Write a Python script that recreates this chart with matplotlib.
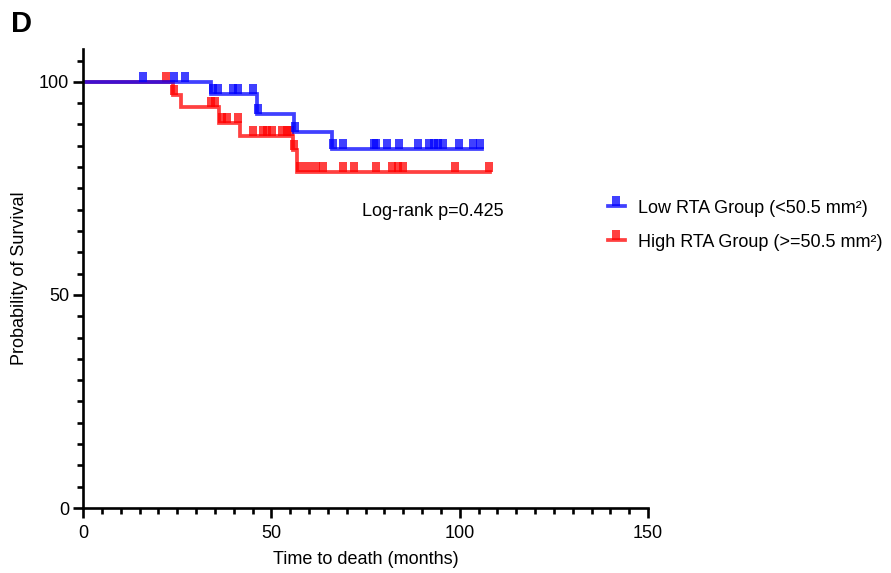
import matplotlib
matplotlib.use("Agg")
import matplotlib.pyplot as plt
from matplotlib.path import Path
from matplotlib.lines import Line2D
from matplotlib.ticker import MultipleLocator
import numpy as np

plt.rcParams['font.family'] = ['Liberation Sans', 'DejaVu Sans']

# Kaplan-Meier steps (months, survival %)
low_event_t = [34.1, 46.1, 56.1, 66.0]
low_event_s = [97.1, 92.4, 88.3, 84.2]
low_end = 105.8
low_censor_t = [15.9, 24.2, 27.1, 34.4, 35.9, 39.9, 41.2, 45.0, 46.4, 56.4,
                66.3, 68.9, 77.3, 77.9, 80.8, 84.0, 89.0, 91.9, 93.2, 94.3,
                95.6, 99.9, 103.6, 105.4]

high_event_t = [24.0, 25.9, 36.2, 41.7, 55.8, 56.9]
high_event_s = [97.0, 94.2, 90.4, 87.4, 84.0, 78.8]
high_end = 108.0
high_censor_t = [22.0, 24.2, 34.1, 35.0, 36.8, 38.1, 41.2, 45.0, 47.9, 48.9,
                 50.1, 52.7, 54.1, 55.0, 56.0, 57.5, 59.8, 61.9, 63.8, 68.9,
                 71.9, 77.9, 81.9, 83.5, 84.9, 98.8, 107.9]

labels = ["Low RTA Group (<50.5 mm²)", "High RTA Group (>=50.5 mm²)"]
colors = ["#0000ff", "#ff0000"]


def surv_at(t, ev_t, ev_s):
    s = 100.0
    for et, es in zip(ev_t, ev_s):
        if et <= t:
            s = es
    return s


# censor tick: small box sitting on top of the line
tick_marker = Path([(-1.0, 0), (1.0, 0), (1.0, 2.4), (-1.0, 2.4), (-1.0, 0)],
                   [Path.MOVETO, Path.LINETO, Path.LINETO, Path.LINETO, Path.CLOSEPOLY])

fs = 13

fig = plt.figure(figsize=(8.91, 5.73), dpi=100)
ax = fig.add_axes([0.0932, 0.1134, 0.6341, 0.801])

groups = [
    (high_event_t, high_event_s, high_end, high_censor_t, colors[1]),
    (low_event_t, low_event_s, low_end, low_censor_t, colors[0]),
]
for ev_t, ev_s, end, cens, col in groups:
    xs = [0] + ev_t + [end]
    ys = [100] + ev_s + [ev_s[-1]]
    ax.step(xs, ys, where='post', color=col, lw=2.7, alpha=0.75,
            solid_joinstyle='miter')
    cy = [surv_at(t, ev_t, ev_s) for t in cens]
    ax.plot(cens, cy, ls='none', marker=tick_marker, ms=15, mew=0,
            color=col, alpha=0.75)

ax.set_xlim(0, 150)
ax.set_ylim(0, 107.7)
ax.spines['top'].set_visible(False)
ax.spines['right'].set_visible(False)
for sp in ['left', 'bottom']:
    ax.spines[sp].set_linewidth(1.9)
ax.set_xticks([0, 50, 100, 150])
ax.set_yticks([0, 50, 100])
ax.xaxis.set_minor_locator(MultipleLocator(5))
ax.yaxis.set_minor_locator(MultipleLocator(5))
ax.tick_params(which='major', length=7, width=1.9, labelsize=fs, pad=3)
ax.tick_params(axis='x', which='major', pad=5)
ax.tick_params(which='minor', length=4.5, width=1.9)

ax.set_xlabel("Time to death (months)", fontsize=fs, labelpad=7)
ax.set_ylabel("Probability of Survival", fontsize=fs, labelpad=8)

ax.text(74.1, 69.5, "Log-rank p=0.425", fontsize=fs, va='center', ha='left')

fig.text(0.012, 0.958, "D", fontsize=21, fontweight='bold', va='center', ha='left')

handles = [Line2D([0], [0], color=c, lw=2.7, alpha=0.75, marker=tick_marker,
                  ms=15, mew=0) for c in colors]
fig.legend(handles, labels, loc='upper left', bbox_to_anchor=(0.664, 0.68),
           frameon=False, fontsize=fs, handlelength=0.95, handletextpad=0.7,
           labelspacing=0.95)

fig.savefig("out.png", dpi=100)
